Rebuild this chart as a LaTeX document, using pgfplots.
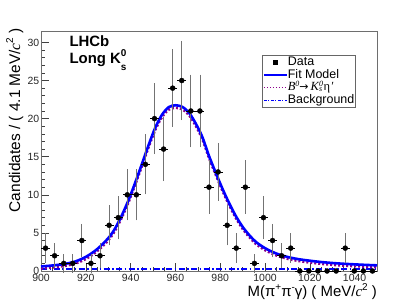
\documentclass[border=0pt]{standalone}
\usepackage{fontspec}
\setmainfont{Liberation Sans}
\newfontfamily\serif{Liberation Serif}
\newfontfamily\dejavu{DejaVu Sans}
\usepackage{pgfplots}
\pgfplotsset{compat=1.18}
\usepackage{pgfplotstable}
\definecolor{fitblue}{RGB}{0,0,255}
\definecolor{sigpurple}{RGB}{140,0,140}
\definecolor{framegray}{RGB}{110,110,110}
\pgfplotsset{datalegend/.style={legend image code/.code={\draw[black, only marks, mark=square*, mark size=2bp] plot coordinates {(11.5bp,0bp)};}}}

\pgfplotstableread{
x y ex ey
902.03 3 2.03 1.732
906.08 2 2.03 1.414
910.14 1 2.03 1
914.19 1 2.03 1
918.24 4 2.03 2
922.30 1 2.03 1
926.35 2 2.03 1.414
930.41 6 2.03 2.449
934.46 7 2.03 2.646
938.51 10 2.03 3.162
942.57 10 2.03 3.162
946.62 14 2.03 3.742
950.68 20 2.03 4.472
954.73 16 2.03 4
958.78 24 2.03 4.899
962.84 25 2.03 5
966.89 21 2.03 4.583
970.95 21 2.03 4.583
975.00 11 2.03 3.317
979.05 13 2.03 3.606
983.11 6 2.03 2.449
987.16 3 2.03 1.732
991.22 11 2.03 3.317
995.27 1 2.03 1
999.32 7 2.03 2.646
1003.38 4 2.03 2
1007.43 2 2.03 1.414
1011.49 3 2.03 1.732
1015.54 0 2.03 0
1019.59 0 2.03 0
1023.65 0 2.03 0
1027.70 0 2.03 0
1031.76 0 2.03 0
1035.81 3 2.03 1.732
1039.86 0 2.03 0
1043.92 0 2.03 0
1047.97 0 2.03 0
}\datatable

\pgfplotstableread{
x tot sig
900 0.60 0.32
905 0.72 0.44
910 0.90 0.62
915 1.22 0.93
920 1.85 1.55
925 2.85 2.55
930 4.30 3.98
933 5.55 5.22
936 7.25 6.92
939 9.25 8.92
942 11.55 11.22
945 14.00 13.66
948 16.50 16.16
951 18.80 18.45
954 20.50 20.15
957 21.50 21.15
960 21.75 21.40
963 21.55 21.20
966 20.80 20.45
969 19.40 19.05
972 17.60 17.26
975 15.10 14.77
978 12.90 12.58
981 10.80 10.48
984 8.90 8.59
987 7.20 6.90
990 5.80 5.50
993 4.70 4.41
996 3.80 3.51
1000 3.00 2.72
1005 2.30 2.03
1010 1.85 1.58
1015 1.55 1.29
1020 1.35 1.09
1025 1.18 0.92
1030 1.05 0.79
1035 0.95 0.69
1040 0.87 0.61
1045 0.80 0.54
1050 0.74 0.48
}\fittable

\pgfplotstableread{
x bkg
900 0.26
1050 0.26
}\bkgtable

\begin{document}
\begin{tikzpicture}
\path[use as bounding box] (0,0) rectangle (419bp,302bp);
\begin{axis}[
  at={(41bp,31bp)}, anchor=south west,
  scale only axis, width=336bp, height=240bp,
  xmin=900, xmax=1050, ymin=0, ymax=31.5,
  axis line style={framegray, line width=0.7bp},
  tick align=inside,
  xtick={900,920,...,1040}, minor x tick num=3,
  ytick={0,5,...,30}, minor y tick num=4,
  xtick pos=bottom, ytick pos=left,
  major tick length=8bp, minor tick length=4bp,
  tick style={black!75, line width=0.6bp},
  ticklabel style={font=\fontsize{10.5}{10.5}\selectfont, text=black!85},
  yticklabel style={inner xsep=1.5bp, inner ysep=1bp},
  xticklabel style={inner ysep=2.5bp},
  /pgf/number format/assume math mode=true,
  /pgf/number format/1000 sep={},
  clip=false,
  legend image code/.code={\draw[#1] (0bp,0bp) -- (23bp,0bp);},
  legend cell align=left,
  legend style={at={(0.9375,0.90)}, anchor=north east,
    draw=black!60, line width=0.7bp, fill=white,
    font=\fontsize{12.5}{12.5}\selectfont,
    inner xsep=1bp, inner ysep=1bp, row sep=0.7bp,
    nodes={inner sep=0.3bp, text height=8.8bp, text depth=2.6bp},
    /tikz/every even column/.append style={column sep=3bp}},
]
% fit components
\addplot[fitblue, line width=2.0bp, dash pattern=on 6bp off 2.5bp on 1.5bp off 2.5bp, forget plot] table[x=x, y=bkg] {\bkgtable};
\addplot[sigpurple, line width=2.2bp, dash pattern=on 2bp off 2bp, smooth, forget plot] table[x=x, y=sig] {\fittable};
\addplot[fitblue, line width=2.6bp, smooth, forget plot] table[x=x, y=tot] {\fittable};
% data: vertical error bars (gray)
\addplot[draw=none, mark=none, forget plot,
  error bars/.cd, y dir=both, y explicit,
  error bar style={black!55, line width=0.8bp},
  error mark options={black!55, line width=0.8bp, mark size=1.5bp}]
  table[x=x, y=y, y error=ey] {\datatable};
% data: horizontal bars and markers
\addplot[only marks, mark=*, mark size=2.5bp, black, forget plot,
  error bars/.cd, x dir=both, x explicit, error mark=none,
  error bar style={black, line width=0.8bp}]
  table[x=x, y=y, x error=ex] {\datatable};

\addlegendimage{datalegend}
\addlegendentry{Data}
\addlegendimage{fitblue, line width=1.5bp}
\addlegendentry{Fit Model}
\addlegendimage{sigpurple, line width=1.5bp, dash pattern=on 1.5bp off 1.5bp}
\addlegendentry{{\serif\itshape B}\raisebox{0.34em}{\fontsize{8}{8}\selectfont\serif\itshape 0}{\dejavu\fontsize{11}{11}\selectfont →}\,{\serif\itshape K}\makebox[0pt][l]{\raisebox{0.34em}{\fontsize{8}{8}\selectfont\serif\itshape 0}}\raisebox{-0.08em}{\fontsize{8}{8}\selectfont\serif\itshape s}\hspace{1.5bp}{\serif η}\kern0.5bp{\serif\itshape ′}}
\addlegendimage{fitblue, line width=1.5bp, dash pattern=on 3bp off 1.5bp on 1bp off 1.5bp}
\addlegendentry{Background\hspace{14bp}}
\end{axis}
% labels
\node[anchor=base west, font=\bfseries\fontsize{15}{15}\selectfont] at (66bp,255bp) {LHCb};
\node[anchor=base west, font=\bfseries\fontsize{15}{15}\selectfont] at (66bp,238bp) {Long K\makebox[0pt][l]{\raisebox{7bp}{\fontsize{10}{10}\selectfont 0}}\raisebox{-7bp}{\fontsize{10}{10}\selectfont s}};
\node[rotate=90, anchor=base east, inner sep=0pt, font=\fontsize{15.5}{15.5}\selectfont] at (20bp,274bp) {Candidates / ( 4.1 MeV/{\serif\itshape c}\raisebox{0.45em}{\fontsize{10}{10}\selectfont 2} )};
\node[anchor=base east, inner sep=0pt, font=\fontsize{15}{15}\selectfont] at (377bp,5.5bp) {M(π\raisebox{0.42em}{\fontsize{10}{10}\selectfont +}π\raisebox{0.42em}{\fontsize{10}{10}\selectfont -}γ) ( MeV/{\serif\itshape c}\raisebox{0.42em}{\fontsize{10}{10}\selectfont 2} )};
\end{tikzpicture}
\end{document}
